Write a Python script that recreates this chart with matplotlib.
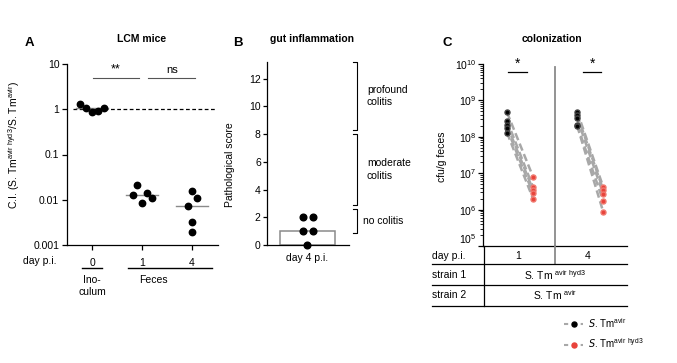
import numpy as np
import matplotlib
matplotlib.use("Agg")
import matplotlib.pyplot as plt
from matplotlib.lines import Line2D

plt.rcParams['font.family'] = ['Liberation Sans', 'DejaVu Sans']
plt.rcParams['mathtext.default'] = 'regular'
plt.rcParams['font.size'] = 7.5

# ---------------- data ----------------
# Panel A: competitive index
a_days = ["0", "1", "4"]
ci_day0 = [1.3, 1.05, 0.85, 0.92, 1.05]
ci_day1 = [0.013, 0.021, 0.0083, 0.014, 0.011]
ci_day4 = [0.016, 0.011, 0.0072, 0.0032, 0.0019]
a_ticks = [0.001, 0.01, 0.1, 1, 10]
a_ticklabels = ["0.001", "0.01", "0.1", "1", "10"]

# Panel B: pathological score
b_scores = [2, 2, 1, 1, 0]
b_label = "day 4 p.i."
b_ranges = {"profound\ncolitis": (8.3, 13.2), "moderate\ncolitis": (2.9, 8.0), "no colitis": (0.9, 2.6)}

# Panel C: colonization
day1_avir = [4.7e8, 2.8e8, 2.1e8, 1.7e8, 1.3e8]
day1_hyd3 = [8.0e6, 4.2e6, 3.5e6, 2.8e6, 2.0e6]
day4_avir = [4.9e8, 4.0e8, 3.2e8, 2.1e8, 2.0e8]
day4_hyd3 = [4.2e6, 3.5e6, 2.7e6, 1.7e6, 8.7e5]
c_days = ["1", "4"]

W, H = 677, 363
fig = plt.figure(figsize=(W / 100, H / 100), dpi=100)


def rect(x0, y0, x1, y1):
    return [x0 / W, 1 - y1 / H, (x1 - x0) / W, (y1 - y0) / H]


def fx(x):
    return x / W


def fy(y):
    return 1 - y / H


def fline(x0, y0, x1, y1, **kw):
    fig.add_artist(Line2D([fx(x0), fx(x1)], [fy(y0), fy(y1)], transform=fig.transFigure, **kw))


def ftext(x, y, s, **kw):
    fig.text(fx(x), fy(y), s, **kw)


# ---------------- Panel A ----------------
axA = fig.add_axes(rect(67, 64, 218, 245))
axA.set_yscale('log')
axA.set_ylim(1e-3, 10)
axA.set_xlim(-0.5, 2.52)
for s in ['top', 'right']:
    axA.spines[s].set_visible(False)
jit0 = [-0.24, -0.12, 0.0, 0.12, 0.24]
jit1 = [-0.18, -0.1, 0.0, 0.1, 0.2]
jit4 = [0.0, 0.1, -0.08, 0.0, 0.0]
for i, (vals, jit) in enumerate([(ci_day0, jit0), (ci_day1, jit1), (ci_day4, jit4)]):
    med = np.median(vals)
    axA.plot([i - 0.32, i + 0.32], [med, med], color='#8a8a8a', lw=1, zorder=2)
    axA.plot(np.array(jit) + i, vals, 'o', color='black', ms=4.6, zorder=3, clip_on=False)
axA.axhline(1, xmin=0.04, xmax=0.99, color='black', ls=(0, (3, 2)), lw=0.9, zorder=1)
axA.set_yticks(a_ticks)
axA.set_yticklabels(a_ticklabels)
axA.yaxis.set_minor_locator(matplotlib.ticker.NullLocator())
axA.set_xticks([0, 1, 2])
axA.set_xticklabels(a_days)
axA.tick_params(length=3.5, width=0.9, pad=6, labelsize=7.5)
axA.tick_params(axis='y', pad=2)
for s in ['left', 'bottom']:
    axA.spines[s].set_linewidth(0.9)
axA.plot([0.02, 0.94], [5, 5], color='#555555', lw=0.8, clip_on=False)
axA.text(0.48, 5.6, "**", ha='center', va='bottom', fontsize=9)
axA.plot([1.12, 2.06], [5, 5], color='#555555', lw=0.8, clip_on=False)
axA.text(1.6, 5.6, "ns", ha='center', va='bottom', fontsize=8)
axA.set_ylabel("C.I. (S. Tm$^{avir\\ hyd3}$/S. Tm$^{avir}$)", fontsize=7.5)
axA.yaxis.set_label_coords(-0.30, 0.55)
ftext(23, 261, "day p.i.", ha='left', va='center', fontsize=7.5)
fline(82, 268, 102, 268, color='black', lw=1)
fline(128, 268, 212, 268, color='black', lw=1)
ftext(92, 286, "Ino-\nculum", ha='center', va='center', fontsize=7.5, linespacing=1.3)
ftext(153, 280, "Feces", ha='center', va='center', fontsize=7.5)
ftext(142, 39, "LCM mice", ha='center', va='center', fontsize=7.5, fontweight='bold')
ftext(29, 43, "A", ha='center', va='center', fontsize=9.5, fontweight='bold')

# ---------------- Panel B ----------------
axB = fig.add_axes(rect(267, 62, 349, 245))
axB.set_ylim(0, 13.2)
axB.set_xlim(-0.736, 0.755)
for s in ['top', 'right']:
    axB.spines[s].set_visible(False)
for s in ['left', 'bottom']:
    axB.spines[s].set_linewidth(0.9)
axB.bar([0], [np.median(b_scores)], width=1.0, color='white', edgecolor='#8a8a8a', lw=1.1, zorder=1)
b_jit = [-0.09, 0.1, -0.09, 0.1, 0.0]
axB.plot(b_jit, b_scores, 'o', color='black', ms=4.8, zorder=3, clip_on=False)
axB.set_yticks([0, 2, 4, 6, 8, 10, 12])
axB.set_xticks([0])
axB.set_xticklabels([b_label])
axB.tick_params(axis='y', length=3, width=0.9, pad=1.5, labelsize=7.5)
axB.tick_params(axis='x', length=0, pad=6, labelsize=7.5)
axB.set_ylabel("Pathological score", fontsize=7.5)
axB.yaxis.set_label_coords(-0.39, 0.44)
for label, (lo, hi) in b_ranges.items():
    axB.plot([0.83, 0.9, 0.9, 0.83], [hi, hi, lo, lo], color='black', lw=0.8, clip_on=False)
    xt = 1.08 if '\n' in label else 1.01
    axB.text(xt, (lo + hi) / 2, label, ha='left', va='center', fontsize=7.5, linespacing=1.3)
ftext(312, 39, "gut inflammation", ha='center', va='center', fontsize=7.5, fontweight='bold')
ftext(238, 43, "B", ha='center', va='center', fontsize=9.5, fontweight='bold')

# ---------------- Panel C ----------------
axC = fig.add_axes(rect(483, 64, 627, 246))
axC.set_yscale('log')
axC.set_ylim(1e5, 1e10)
axC.set_xlim(-0.923, 4.615)
for s in ['top', 'right']:
    axC.spines[s].set_visible(False)
for s in ['left', 'bottom']:
    axC.spines[s].set_linewidth(0.9)
pos = [(0.0, 1.0), (2.7, 3.7)]
for (xa, xh), va, vh in zip(pos, [day1_avir, day4_avir], [day1_hyd3, day4_hyd3]):
    for a, h in zip(va, vh):
        axC.plot([xa, xh], [a, h], color='#a8a8a8', ls=(0, (3, 1.5)), lw=1.8, zorder=2)
    axC.plot([xa] * len(va), va, 'o', color='black', mec='#444444', ms=3.6, zorder=3)
    axC.plot([xh] * len(vh), vh, 'o', color='#e8433b', mec='#f07a70', ms=3.6, zorder=3)
axC.axvline(1.85, ymin=0.985, ymax=0, color='#8a8a8a', lw=1.3)
axC.set_yticks([1e5, 1e6, 1e7, 1e8, 1e9, 1e10])
axC.set_yticklabels(["10$^{5}$", "10$^{6}$", "10$^{7}$", "10$^{8}$", "10$^{9}$", "10$^{10}$"])
axC.yaxis.set_minor_locator(matplotlib.ticker.LogLocator(base=10, subs=np.arange(2, 10), numticks=20))
axC.yaxis.set_minor_formatter(matplotlib.ticker.NullFormatter())
axC.tick_params(axis='y', which='major', length=3.5, width=0.9, pad=1.5, labelsize=7.5)
axC.tick_params(axis='y', which='minor', length=2, width=0.6)
axC.get_yticklabels()[0].set_va('bottom')
axC.set_xticks([])
axC.set_ylabel("cfu/g feces", fontsize=7.5)
axC.yaxis.set_label_coords(-0.25, 0.49)
for x0, x1 in [(0.04, 0.77), (2.92, 3.62)]:
    axC.plot([x0, x1], [6e9, 6e9], color='black', lw=0.9, clip_on=False)
    axC.text((x0 + x1) / 2, 6.5e9, "*", ha='center', va='bottom', fontsize=10)
# separator line continuing into table
fline(555, 246, 555, 264, color='#8a8a8a', lw=1.3)
fline(484, 246, 484, 306, color='black', lw=0.9)
for yl in [264, 285, 306]:
    fline(432, yl, 627, yl, color='black', lw=0.9)
ftext(432, 256, "day p.i.", ha='left', va='center', fontsize=7.5)
ftext(518, 256, c_days[0], ha='center', va='center', fontsize=7.5)
ftext(588, 256, c_days[1], ha='center', va='center', fontsize=7.5)
ftext(432, 275, "strain 1", ha='left', va='center', fontsize=7.5)
ftext(432, 295, "strain 2", ha='left', va='center', fontsize=7.5)
ftext(555, 275, "S. Tm $^{avir\\ hyd3}$", ha='center', va='center', fontsize=7.5)
ftext(555, 295, "S. Tm $^{avir}$", ha='center', va='center', fontsize=7.5)
ftext(552, 39, "colonization", ha='center', va='center', fontsize=7.5, fontweight='bold')
ftext(447, 43, "C", ha='center', va='center', fontsize=9.5, fontweight='bold')

handles = [
    Line2D([], [], color='#a8a8a8', ls=(0, (2, 2)), lw=1.5, marker='o', mfc='black', mec='black', ms=3.6),
    Line2D([], [], color='#a8a8a8', ls=(0, (2, 2)), lw=1.5, marker='o', mfc='#e8433b', mec='#e8433b', ms=3.6),
]
fig.legend(handles, ["$\\it{S}$. Tm$^{avir}$", "$\\it{S}$. Tm$^{avir\\ hyd3}$"],
           loc='upper left', bbox_to_anchor=(fx(559), fy(311)), frameon=False,
           fontsize=7, handlelength=2.0, handletextpad=0.5, labelspacing=0.7, borderpad=0)

fig.savefig("out.png", dpi=100)
